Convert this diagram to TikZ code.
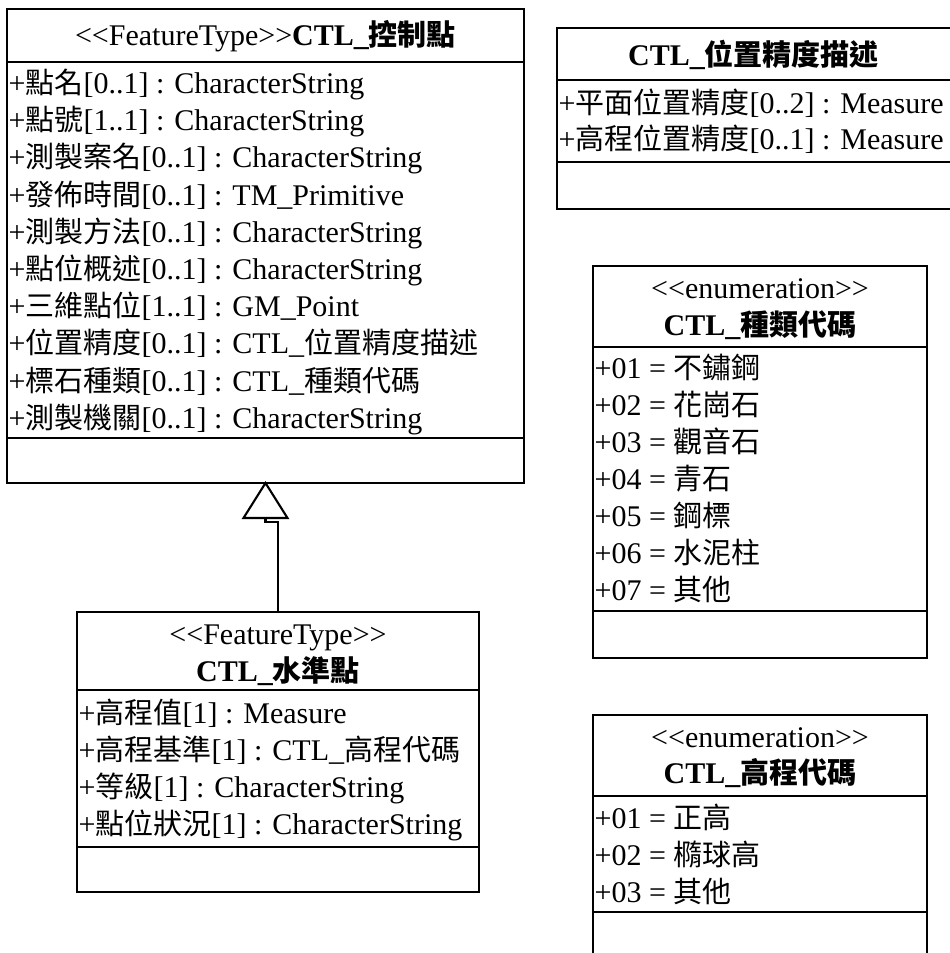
\documentclass[tikz,border=0pt]{standalone}
\usepackage{fontspec}
\newfontfamily\tms{Liberation Serif}
\newfontfamily\zhf{Noto Sans CJK TC}
\newcommand{\zh}{\zhf\fontsize{29}{34}\selectfont}
\begin{document}
\begin{tikzpicture}[x=1pt,y=-1pt,
  box/.style={draw, line width=2.5pt, anchor=north west, inner sep=0pt, outer sep=0pt},
  sepline/.style={line width=2.5pt},
  conn/.style={line width=2.1pt},
  txt/.style={anchor=base west, inner sep=0pt, font=\tms\fontsize{30}{35}\selectfont},
  ttl/.style={anchor=base, inner sep=0pt, font=\tms\fontsize{30}{35}\selectfont}]
\useasboundingbox (0,0) rectangle (950,953);

% ---------- CTL_控制點 ----------
\node[box, minimum width=517pt, minimum height=474pt] (b1) at (7,9) {};
\draw[sepline] (b1.west |- 0,62) -- (b1.east |- 0,62);
\draw[sepline] (b1.west |- 0,438) -- (b1.east |- 0,438);
\node[ttl] (b1t) at (265.5,45) {<{}<FeatureType>{}>\textbf{CTL\_{\zh 控制點}}};
\node[txt] (b1a1) at (8.5,93.5) {+{\zh 點名}[0..1] : CharacterString};
\node[txt] (b1a2) at (8.5,130.7) {+{\zh 點號}[1..1] : CharacterString};
\node[txt] (b1a3) at (8.5,167.9) {+{\zh 測製案名}[0..1] : CharacterString};
\node[txt] (b1a4) at (8.5,205.1) {+{\zh 發佈時間}[0..1] : TM\_Primitive};
\node[txt] (b1a5) at (8.5,242.3) {+{\zh 測製方法}[0..1] : CharacterString};
\node[txt] (b1a6) at (8.5,279.5) {+{\zh 點位概述}[0..1] : CharacterString};
\node[txt] (b1a7) at (8.5,316.7) {+{\zh 三維點位}[1..1] : GM\_Point};
\node[txt] (b1a8) at (8.5,353.9) {+{\zh 位置精度}[0..1] : CTL\_{\zh 位置精度描述}};
\node[txt] (b1a9) at (8.5,391.1) {+{\zh 標石種類}[0..1] : CTL\_{\zh 種類代碼}};
\node[txt] (b1a10) at (8.5,428.3) {+{\zh 測製機關}[0..1] : CharacterString};

% ---------- CTL_位置精度描述 ----------
\node[box, minimum width=394pt, minimum height=181pt] (b2) at (557,28) {};
\draw[sepline] (b2.west |- 0,80) -- (b2.east |- 0,80);
\draw[sepline] (b2.west |- 0,162) -- (b2.east |- 0,162);
\node[ttl] (b2t) at (753.5,65.5) {\textbf{CTL\_{\zh 位置精度描述}}};
\node[txt] (b2a1) at (558.5,113.5) {+{\zh 平面位置精度}[0..2] : Measure};
\node[txt] (b2a2) at (558.5,149.5) {+{\zh 高程位置精度}[0..1] : Measure};

% ---------- CTL_種類代碼 ----------
\node[box, minimum width=334pt, minimum height=392pt] (b3) at (593,266) {};
\draw[sepline] (b3.west |- 0,347) -- (b3.east |- 0,347);
\draw[sepline] (b3.west |- 0,611) -- (b3.east |- 0,611);
\node[ttl] (b3s) at (760,298.5) {<{}<enumeration>{}>};
\node[ttl] (b3t) at (760,335.5) {\textbf{CTL\_{\zh 種類代碼}}};
\node[txt] (b3a1) at (594.5,378.5) {+01 = {\zh 不鏽鋼}};
\node[txt] (b3a2) at (594.5,415.5) {+02 = {\zh 花崗石}};
\node[txt] (b3a3) at (594.5,452.5) {+03 = {\zh 觀音石}};
\node[txt] (b3a4) at (594.5,489.5) {+04 = {\zh 青石}};
\node[txt] (b3a5) at (594.5,526.5) {+05 = {\zh 鋼標}};
\node[txt] (b3a6) at (594.5,563.5) {+06 = {\zh 水泥柱}};
\node[txt] (b3a7) at (594.5,600.5) {+07 = {\zh 其他}};

% ---------- CTL_高程代碼 ----------
\node[box, minimum width=334pt, minimum height=260pt] (b4) at (593,715) {};
\draw[sepline] (b4.west |- 0,796) -- (b4.east |- 0,796);
\draw[sepline] (b4.west |- 0,912) -- (b4.east |- 0,912);
\node[ttl] (b4s) at (760,747.5) {<{}<enumeration>{}>};
\node[ttl] (b4t) at (760,783.5) {\textbf{CTL\_{\zh 高程代碼}}};
\node[txt] (b4a1) at (594.5,828.5) {+01 = {\zh 正高}};
\node[txt] (b4a2) at (594.5,865.5) {+02 = {\zh 橢球高}};
\node[txt] (b4a3) at (594.5,902.5) {+03 = {\zh 其他}};

% ---------- CTL_水準點 ----------
\node[box, minimum width=402pt, minimum height=280pt] (b5) at (77,612) {};
\draw[sepline] (b5.west |- 0,690) -- (b5.east |- 0,690);
\draw[sepline] (b5.west |- 0,847) -- (b5.east |- 0,847);
\node[ttl] (b5s) at (278,644.5) {<{}<FeatureType>{}>};
\node[ttl] (b5t) at (278,681) {\textbf{CTL\_{\zh 水準點}}};
\node[txt] (b5a1) at (78.5,723.5) {+{\zh 高程值}[1] : Measure};
\node[txt] (b5a2) at (78.5,760.5) {+{\zh 高程基準}[1] : CTL\_{\zh 高程代碼}};
\node[txt] (b5a3) at (78.5,797.5) {+{\zh 等級}[1] : CharacterString};
\node[txt] (b5a4) at (78.5,834.5) {+{\zh 點位狀況}[1] : CharacterString};

% ---------- generalization ----------
\path (b1.south) ++(0,35) coordinate (tb);
\draw[conn, fill=white, line join=miter] (b1.south) -- ++(22,35) -- ++(-44,0) -- cycle;
\draw[conn] (b5.north) -- (b5.north |- 0,522) -- (tb |- 0,522) -- (tb);
\end{tikzpicture}
\end{document}
